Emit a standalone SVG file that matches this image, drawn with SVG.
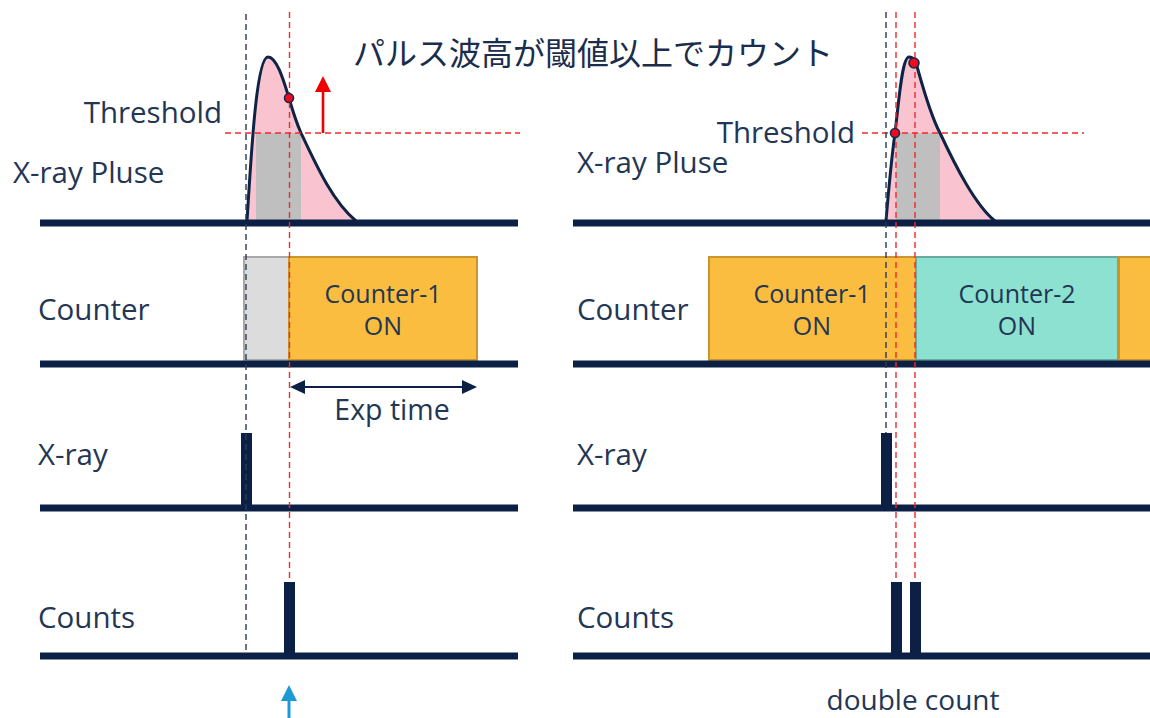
<svg xmlns="http://www.w3.org/2000/svg" width="1150" height="718" viewBox="0 0 1150 718">
  <style>
    .lbl { font-family: "Open Sans", "Noto Sans", sans-serif; font-size: 29.5px; fill: #233654; }
    .box { font-family: "Open Sans", "Noto Sans", sans-serif; font-size: 25px; fill: #233654; text-anchor: middle; }
    .jp { font-family: "Noto Sans CJK JP", sans-serif; font-size: 32px; fill: #1b2d4c; }
    .base { stroke: #0b2044; stroke-width: 7; }
    .bar { fill: #0b2044; }
    .fillp { fill: #f9c4cf; }
    .edge { fill: none; stroke: #0f2346; stroke-width: 3; stroke-linejoin: round; }
    .gate { fill: #bfbfbf; }
    .dblack { stroke: #2b3a58; stroke-width: 1.4; stroke-dasharray: 6 4; fill: none; }
    .dred { stroke: #f02a2a; stroke-width: 1.4; stroke-dasharray: 6 4; fill: none; }
    .dot { fill: #ee0a1e; stroke: #1a2a48; stroke-width: 1.6; }
    .on1 { fill: #fbbd3f; stroke: #c8952e; stroke-width: 2; }
    .on2 { fill: #8ce1d1; stroke: #6aa99d; stroke-width: 2; }
    .idle { fill: #dcdcdc; stroke: #a9a9a9; stroke-width: 2; }
  </style>

  <!-- Title -->
  <text class="jp" x="353" y="65" textLength="480">パルス波高が閾値以上でカウント</text>

  <!-- ===== Left panel: single count ===== -->
  <g id="left-pulse">
    <path class="fillp" d="M247,221 C251,160 256,57 268,57 C277,57 284,82 289,98 C293,112 297,124 301,133 C317,167 333,202 356,221 Z"/>
    <rect class="gate" x="256" y="133" width="45" height="87"/>
    <path class="edge" d="M247,221 C251,160 256,57 268,57 C277,57 284,82 289,98 C293,112 297,124 301,133 C317,167 333,202 356,221"/>
    <text class="lbl" x="222" y="123" text-anchor="end">Threshold</text>
    <text class="lbl" x="13" y="183">X-ray Pluse</text>
  </g>

  <g id="left-counter">
    <rect class="idle" x="244" y="257" width="45" height="103"/>
    <rect class="on1" x="289" y="257" width="188" height="103"/>
    <text class="box" x="383" y="303">Counter-1</text>
    <text class="box" x="383" y="335">ON</text>
    <text class="lbl" x="38" y="320">Counter</text>
  </g>

  <g id="left-xray">
    <rect class="bar" x="241" y="433" width="11" height="72"/>
    <text class="lbl" x="38" y="465">X-ray</text>
  </g>

  <g id="left-counts">
    <rect class="bar" x="284" y="582" width="11" height="72"/>
    <text class="lbl" x="38" y="628">Counts</text>
  </g>

  <!-- ===== Right panel: double count ===== -->
  <g id="right-pulse">
    <path class="fillp" d="M886,221 C889,185 892,155 895,133 C899,100 902,57 909,57 C914,57 916,62 918,70 C925,95 933,120 940,133 C955,165 975,205 995,221 Z"/>
    <rect class="gate" x="896" y="133" width="44" height="87"/>
    <path class="edge" d="M886,221 C889,185 892,155 895,133 C899,100 902,57 909,57 C914,57 916,62 918,70 C925,95 933,120 940,133 C955,165 975,205 995,221"/>
    <text class="lbl" x="855" y="143" text-anchor="end">Threshold</text>
    <text class="lbl" x="577" y="173">X-ray Pluse</text>
  </g>

  <g id="right-counter">
    <rect class="on1" x="709" y="257" width="207" height="103"/>
    <rect class="on2" x="916" y="257" width="202" height="103"/>
    <rect class="on1" x="1119" y="257" width="40" height="103"/>
    <text class="box" x="812" y="303">Counter-1</text>
    <text class="box" x="812" y="335">ON</text>
    <text class="box" x="1017" y="303">Counter-2</text>
    <text class="box" x="1017" y="335">ON</text>
    <text class="lbl" x="577" y="320">Counter</text>
  </g>

  <g id="right-xray">
    <rect class="bar" x="881" y="433" width="11" height="72"/>
    <text class="lbl" x="577" y="465">X-ray</text>
  </g>

  <g id="right-counts">
    <rect class="bar" x="891" y="582" width="11" height="72"/>
    <rect class="bar" x="910" y="582" width="11" height="72"/>
    <text class="lbl" x="577" y="628">Counts</text>
    <text class="lbl" x="913" y="710" text-anchor="middle" style="font-size:28px">double count</text>
  </g>

  <!-- Time axes, guides and arrows -->
  <g id="connectors">
    <!-- baselines -->
    <line class="base" x1="40" y1="223" x2="518" y2="223"/>
    <line class="base" x1="40" y1="364" x2="518" y2="364"/>
    <line class="base" x1="40" y1="508" x2="518" y2="508"/>
    <line class="base" x1="40" y1="656" x2="518" y2="656"/>
    <line class="base" x1="573" y1="223" x2="1150" y2="223"/>
    <line class="base" x1="573" y1="364" x2="1150" y2="364"/>
    <line class="base" x1="573" y1="508" x2="1150" y2="508"/>
    <line class="base" x1="573" y1="656" x2="1150" y2="656"/>

    <!-- threshold levels -->
    <line class="dred" x1="225" y1="133" x2="520" y2="133"/>
    <line class="dred" x1="862" y1="133" x2="1084" y2="133"/>

    <!-- timing guides -->
    <line class="dblack" x1="246" y1="14" x2="246" y2="652"/>
    <line class="dred" x1="289.5" y1="12" x2="289.5" y2="582"/>
    <line class="dblack" x1="886" y1="12" x2="886" y2="433"/>
    <line class="dred" x1="896" y1="12" x2="896" y2="582"/>
    <line class="dred" x1="915" y1="12" x2="915" y2="582"/>

    <!-- threshold crossing points -->
    <circle class="dot" cx="289" cy="98" r="4.5"/>
    <circle class="dot" cx="895" cy="133" r="4.5"/>
    <circle class="dot" cx="914" cy="63" r="5"/>

    <!-- pulse-height arrow -->
    <line x1="323" y1="133" x2="323" y2="90" stroke="#f00000" stroke-width="2.6"/>
    <polygon points="315,92 331,92 323,76" fill="#f00000"/>

    <!-- exposure time -->
    <line x1="300" y1="387" x2="467" y2="387" stroke="#0b2044" stroke-width="2"/>
    <polygon points="290,387 305,380 305,394" fill="#0b2044"/>
    <polygon points="477,387 462,380 462,394" fill="#0b2044"/>
    <text class="lbl" x="392" y="420" text-anchor="middle" style="font-size:28.5px">Exp time</text>

    <!-- count marker -->
    <line x1="289" y1="699" x2="289" y2="718" stroke="#1c9ad6" stroke-width="3"/>
    <polygon points="281,701 297,701 289,685" fill="#1c9ad6"/>
  </g>
</svg>
